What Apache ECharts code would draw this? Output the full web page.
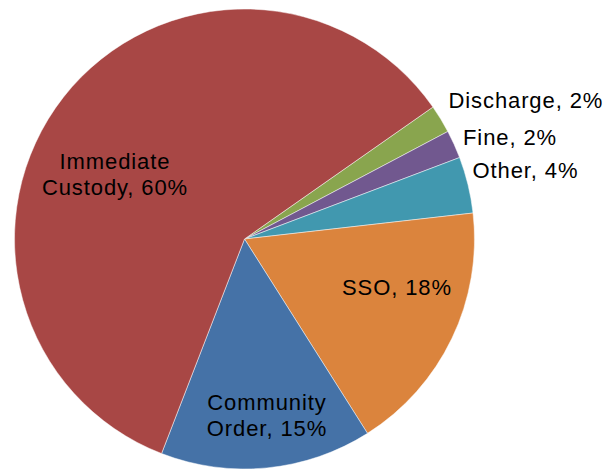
<!DOCTYPE html>
<html>
<head>
<meta charset="utf-8">
<script src="https://cdn.jsdelivr.net/npm/echarts@6/dist/echarts.min.js"></script>
<style>
  html, body { margin: 0; padding: 0; background: #fff; }
  #chart { width: 606px; height: 469px; letter-spacing: 0.9px; }
</style>
</head>
<body>
<div id="chart"></div>
<script>
// Sentence types, share of outcomes (%), listed clockwise from the upper right
const categories = ['Discharge', 'Fine', 'Other', 'SSO', 'Community Order', 'Immediate Custody'];
const shares = [2, 2, 4, 18, 15, 60];
const sliceColors = ['#89A54E', '#71588F', '#4198AF', '#DB843D', '#4572A7', '#A84745'];
// Text as it is broken over lines in each label
const labelNames = ['Discharge', 'Fine', 'Other', 'SSO', 'Community\nOrder', 'Immediate\nCustody'];

// Where each label sits: [x, y, horizontal alignment]
const labelSpots = [
  [448.5, 100, 'left'],
  [463, 137.5, 'left'],
  [472.5, 170.5, 'left'],
  [397, 287, 'center'],
  [267, 415.5, 'center'],
  [115, 174.5, 'center']
];

const chart = echarts.init(document.getElementById('chart'), null, { renderer: 'svg' });

chart.setOption({
  animation: false,
  backgroundColor: '#ffffff',
  series: [{
    type: 'pie',
    center: [244.5, 239],
    radius: 230,
    startAngle: 35,
    clockwise: true,
    avoidLabelOverlap: false,
    itemStyle: {
      borderColor: 'rgba(255,255,255,0.6)',
      borderWidth: 0.8
    },
    label: {
      show: true,
      position: 'inside',
      color: '#000',
      fontFamily: '"Liberation Sans", Arial, sans-serif',
      fontSize: 22,
      lineHeight: 26.5,
      formatter: p => labelNames[p.dataIndex] + ', ' + p.value + '%'
    },
    labelLine: { show: false },
    labelLayout: p => {
      const s = labelSpots[p.dataIndex];
      return { x: s[0], y: s[1], align: s[2], verticalAlign: 'middle', moveOverlap: false };
    },
    emphasis: { disabled: true },
    data: categories.map((name, i) => ({
      name,
      value: shares[i],
      itemStyle: { color: sliceColors[i] }
    }))
  }]
});
</script>
</body>
</html>
